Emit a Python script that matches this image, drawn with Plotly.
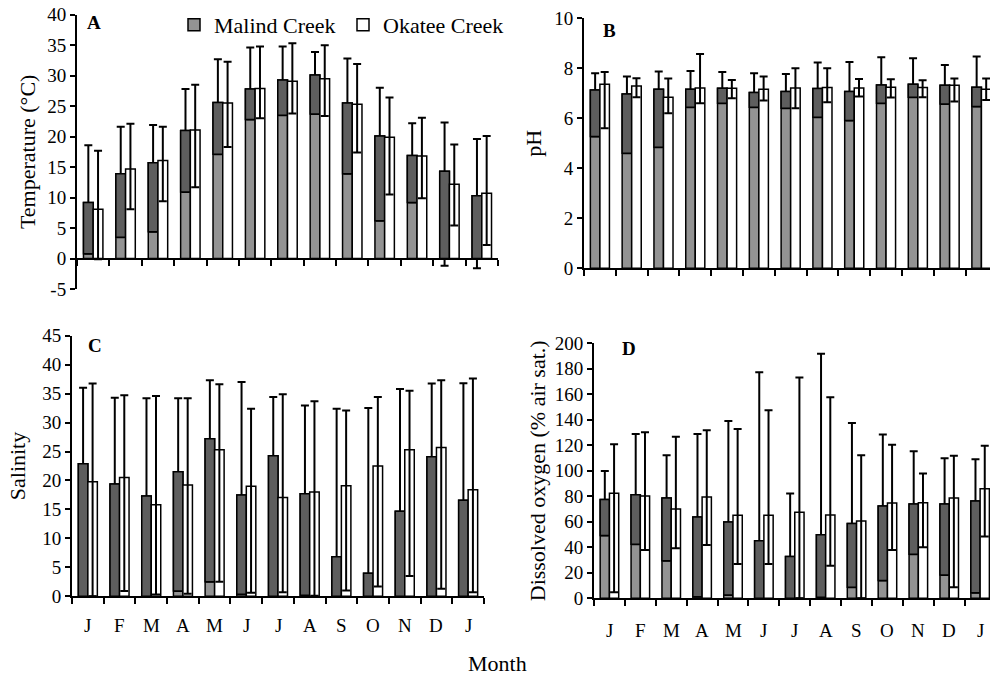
import plotly.graph_objects as go

W, H = 990, 679

months = ["J", "F", "M", "A", "M", "J", "J", "A", "S", "O", "N", "D", "J"]

# Panel A - Temperature (deg C): mean, max, min
temp_malind_mean = [9.2, 13.9, 15.7, 21.0, 25.6, 27.8, 29.3, 30.1, 25.5, 20.1, 16.9, 14.3, 10.3]
temp_malind_max = [18.6, 21.6, 21.9, 27.8, 32.7, 34.6, 34.8, 33.9, 32.8, 28.0, 22.2, 22.3, 19.6]
temp_malind_min = [0.8, 3.5, 4.4, 10.9, 17.1, 22.8, 23.5, 23.7, 13.9, 6.2, 9.2, -1.2, -1.6]
temp_okatee_mean = [8.1, 14.7, 16.1, 21.1, 25.5, 27.9, 29.1, 29.5, 25.3, 19.9, 16.8, 12.2, 10.7]
temp_okatee_max = [17.7, 22.1, 21.6, 28.5, 32.3, 34.8, 35.3, 35.0, 31.9, 26.4, 23.1, 18.7, 20.1]
temp_okatee_min = [-0.1, 8.1, 9.4, 11.7, 18.3, 23.0, 23.8, 23.4, 17.4, 10.5, 9.9, 5.4, 2.2]
temp_ticks = [-5, 0, 5, 10, 15, 20, 25, 30, 35, 40]

# Panel B - pH
ph_malind_mean = [7.13, 6.97, 7.16, 7.16, 7.20, 7.03, 7.07, 7.19, 7.07, 7.33, 7.36, 7.32, 7.24]
ph_malind_max = [7.80, 7.67, 7.87, 7.89, 7.85, 7.80, 7.77, 8.23, 8.25, 8.44, 8.40, 8.13, 8.47]
ph_malind_min = [5.27, 4.60, 4.84, 6.44, 6.60, 6.44, 6.40, 6.04, 5.91, 6.60, 6.84, 6.57, 6.47]
ph_okatee_mean = [7.36, 7.29, 6.84, 7.21, 7.20, 7.16, 7.21, 7.23, 7.21, 7.24, 7.23, 7.32, 7.16]
ph_okatee_max = [7.85, 7.60, 7.59, 8.57, 7.53, 7.67, 8.00, 8.00, 7.57, 7.56, 7.52, 7.59, 7.59]
ph_okatee_min = [5.60, 6.84, 6.20, 6.60, 6.80, 6.71, 6.40, 6.64, 6.87, 6.83, 6.84, 6.67, 6.73]

# Panel C - Salinity
sal_malind_mean = [22.9, 19.4, 17.3, 21.5, 27.2, 17.5, 24.25, 17.7, 6.85, 4.0, 14.7, 24.1, 16.6]
sal_malind_max = [36.0, 34.3, 34.2, 34.2, 37.3, 37.0, 34.4, 32.95, 32.4, 32.5, 35.8, 36.75, 36.8]
sal_malind_min = [0.0, 0.0, 0.0, 0.9, 2.5, 0.35, 0.0, 0.2, 0.0, 0.0, 0.0, 0.0, 0.0]
sal_okatee_mean = [19.8, 20.5, 15.8, 19.2, 25.3, 19.0, 17.05, 18.0, 19.07, 22.5, 25.3, 25.7, 18.4]
sal_okatee_max = [36.75, 34.7, 34.6, 34.2, 36.6, 32.4, 34.9, 33.7, 32.1, 34.4, 35.5, 37.3, 37.6]
sal_okatee_min = [0.0, 0.9, 0.3, 0.45, 2.5, 0.6, 0.7, 0.1, 1.0, 1.7, 3.5, 1.3, 0.7]

# Panel D - Dissolved oxygen (% air sat.)
do_malind_mean = [77.4, 81.3, 78.7, 63.8, 59.9, 45.2, 32.7, 49.9, 58.6, 72.4, 74.0, 74.0, 76.3]
do_malind_max = [99.9, 128.9, 112.2, 128.9, 139.1, 177.3, 82.1, 191.9, 137.5, 128.4, 115.3, 109.8, 109.0]
do_malind_min = [49.2, 42.4, 29.5, 1.3, 2.6, 0.0, 0.0, 0.8, 8.6, 13.9, 34.5, 18.3, 4.4]
do_okatee_mean = [82.4, 80.3, 70.1, 79.5, 65.1, 65.1, 67.5, 65.4, 60.7, 74.8, 75.0, 78.7, 86.0]
do_okatee_max = [120.8, 130.2, 126.8, 131.8, 132.8, 147.5, 173.1, 157.6, 112.2, 120.5, 97.8, 111.9, 119.7]
do_okatee_min = [4.7, 37.9, 39.2, 41.8, 26.9, 26.9, 0.0, 25.6, 0.0, 37.9, 40.0, 8.6, 48.4]

FONT = "Liberation Serif, Times New Roman, serif"
LIGHT = "#939393"
DARK = "#5e5e5e"
BAR_W = 0.3

fig = go.Figure()
xs = list(range(len(months)))


def add_panel(n, m_mean, m_max, m_min, o_mean, o_max, o_min, legend):
    xa = "x" if n == 1 else f"x{n}"
    ya = "y" if n == 1 else f"y{n}"
    line = dict(color="black", width=1.5)
    fig.add_trace(go.Bar(
        x=xs, y=m_mean, xaxis=xa, yaxis=ya, width=BAR_W, offset=-BAR_W,
        marker=dict(color=LIGHT, line=line), name="Malind Creek",
        showlegend=legend, legendgroup="m",
        error_y=dict(type="data", symmetric=False,
                     array=[hi - m for hi, m in zip(m_max, m_mean)],
                     arrayminus=[m - lo for m, lo in zip(m_mean, m_min)],
                     color="black", thickness=2, width=4)))
    base = [max(lo, 0) for lo in m_min]
    fig.add_trace(go.Bar(
        x=xs, y=[m - b for m, b in zip(m_mean, base)], base=base,
        xaxis=xa, yaxis=ya, width=BAR_W, offset=-BAR_W,
        marker=dict(color=DARK, line=line), showlegend=False,
        legendgroup="m", hoverinfo="skip"))
    fig.add_trace(go.Bar(
        x=xs, y=o_mean, xaxis=xa, yaxis=ya, width=BAR_W, offset=0,
        marker=dict(color="white", line=line), name="Okatee Creek",
        showlegend=legend, legendgroup="o",
        error_y=dict(type="data", symmetric=False,
                     array=[hi - m for hi, m in zip(o_max, o_mean)],
                     arrayminus=[m - lo for m, lo in zip(o_mean, o_min)],
                     color="black", thickness=2, width=4)))


add_panel(1, temp_malind_mean, temp_malind_max, temp_malind_min,
          temp_okatee_mean, temp_okatee_max, temp_okatee_min, True)
add_panel(2, ph_malind_mean, ph_malind_max, ph_malind_min,
          ph_okatee_mean, ph_okatee_max, ph_okatee_min, False)
add_panel(3, sal_malind_mean, sal_malind_max, sal_malind_min,
          sal_okatee_mean, sal_okatee_max, sal_okatee_min, False)
add_panel(4, do_malind_mean, do_malind_max, do_malind_min,
          do_okatee_mean, do_okatee_max, do_okatee_min, False)


def px_x(p):
    return p / W


def px_y(p):
    return 1 - p / H


TICKFONT = dict(family=FONT, size=19, color="black")


def xaxis(dom, rng, **kw):
    d = dict(domain=dom, range=rng, tickmode="array", tickvals=xs,
             ticktext=months, ticks="", showticklabels=False,
             showline=True, linecolor="black", linewidth=2,
             showgrid=False, zeroline=False, fixedrange=True,
             automargin=False, tickfont=TICKFONT,
             minor=dict(tickmode="linear", tick0=-0.5, dtick=1,
                        ticks="outside", ticklen=6, tickwidth=1.5,
                        tickcolor="black", showgrid=False))
    d.update(kw)
    return d


def yaxis(dom, rng, dtick, title, standoff, **kw):
    d = dict(domain=dom, range=rng, dtick=dtick, tick0=0,
             ticks="outside", ticklen=5, tickwidth=1.5, tickcolor="black",
             showline=True, linecolor="black", linewidth=2,
             showgrid=False, zeroline=False, fixedrange=True,
             automargin=False, tickfont=TICKFONT,
             title=dict(text=title, standoff=standoff,
                        font=dict(family=FONT, size=22, color="black")))
    d.update(kw)
    return d


fig.update_layout(
    xaxis=xaxis([px_x(77), px_x(498)], [-0.5, 12.5],
                anchor="free", position=px_y(258.7)),
    yaxis=yaxis([px_y(289), px_y(14.7)], [-5, 40], 5,
                "Temperature (°C)", 5, anchor="x", tickmode="array",
                tickvals=temp_ticks, ticktext=[str(v) for v in temp_ticks]),
    xaxis2=xaxis([px_x(584), 1.0], [-0.5, 12.27], anchor="y2"),
    yaxis2=yaxis([px_y(268.3), px_y(18.3)], [0, 10], 2, "pH", 6, anchor="x2"),
    xaxis3=xaxis([px_x(72), px_x(484)], [-0.5, 12.5], anchor="y3"),
    yaxis3=yaxis([px_y(596.3), px_y(335.7)], [0, 45], 5, "Salinity", 11,
                 anchor="x3"),
    xaxis4=xaxis([px_x(594), 1.0], [-0.5, 12.32], anchor="y4"),
    yaxis4=yaxis([px_y(598.3), px_y(343.3)], [0, 200], 20,
                 "Dissolved oxygen (% air sat.)", 3, anchor="x4"),
)

annots = [
    ("<b>A</b>", 94, 23), ("<b>B</b>", 609, 31),
    ("<b>C</b>", 95, 345), ("<b>D</b>", 629, 349),
]
anns = [dict(text=t, x=px_x(x), y=px_y(y), xref="paper", yref="paper",
             showarrow=False, xanchor="center", yanchor="middle",
             font=dict(family=FONT, size=19, color="black"))
        for t, x, y in annots]
anns.append(dict(text="Month", x=px_x(497), y=px_y(678), xref="paper",
                 yref="paper", showarrow=False, xanchor="center",
                 yanchor="bottom",
                 font=dict(family=FONT, size=22, color="black")))
# month tick labels under panels C and D (placed on the data x-axis)
for xref, ypix in (("x3", 625), ("x4", 630)):
    for i, m in enumerate(months):
        anns.append(dict(text=m, x=i, y=px_y(ypix), xref=xref, yref="paper",
                         showarrow=False, xanchor="center", yanchor="middle",
                         font=TICKFONT))

fig.update_layout(
    width=W, height=H, barmode="overlay",
    margin=dict(l=0, r=0, t=0, b=0, autoexpand=False),
    paper_bgcolor="white", plot_bgcolor="white",
    font=dict(family=FONT, color="black"),
    annotations=anns,
    legend=dict(orientation="h", x=px_x(174), y=px_y(4), xanchor="left",
                yanchor="top", font=dict(family=FONT, size=22, color="black"),
                entrywidth=124, entrywidthmode="pixels",
                bgcolor="rgba(0,0,0,0)", borderwidth=0, traceorder="normal"),
    showlegend=True,
)

fig.write_html("out.html")
